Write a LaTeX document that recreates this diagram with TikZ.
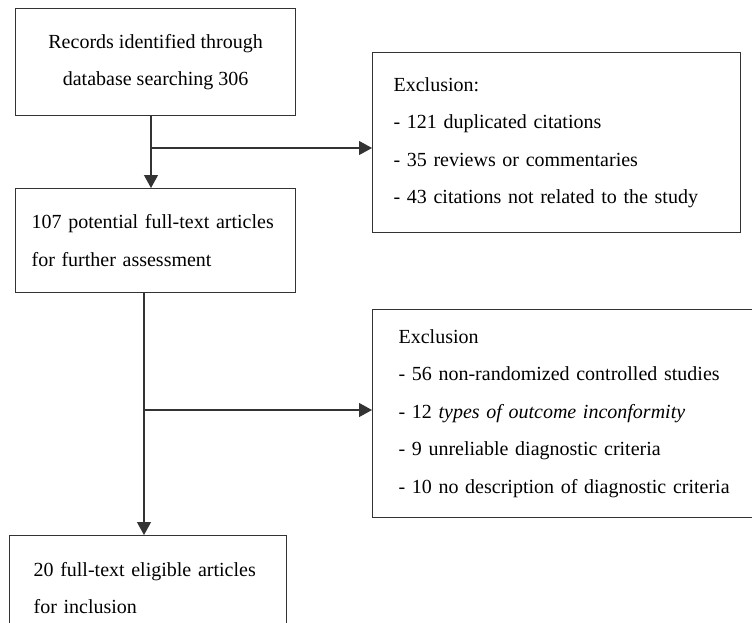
\documentclass[tikz,border=0pt]{standalone}
\usepackage{fontspec}
\setmainfont{Liberation Serif}
\usetikzlibrary{arrows.meta}

\tikzset{
  box/.style={shape=rectangle,draw=black!80,line width=1.2pt,anchor=north west,inner ysep=0pt},
  link/.style={draw=black!80,line width=1.2pt,-{Triangle[length=13pt,width=14pt]}},
}

\begin{document}
\begin{tikzpicture}[x=1pt,y=-1pt,font=\fontsize{20}{37.5}\selectfont]
        \useasboundingbox (0,0) rectangle (752,622);
        \clip (0,0) rectangle (752,622);

        \node[box,minimum width=280pt,minimum height=107pt,align=center] (records) at (15,8) {Records identified through\\database searching 306};
        \node[box,inner xsep=21pt,text width=326pt,minimum height=180pt,align=left] (excl1) at (372,52) {Exclusion:\\- 121 duplicated citations\\- 35 reviews or commentaries\\- 43 citations not related to the study};
        \node[box,inner xsep=16pt,text width=248pt,minimum height=104pt,align=left] (potential) at (15,188) {107 potential full-text articles\\for further assessment};
        \node[box,inner xsep=26pt,text width=348pt,minimum height=208pt,align=left] (excl2) at (372,309) {Exclusion\\- 56 non-randomized controlled studies\\- 12 \textit{types of outcome inconformity}\\- 9 unreliable diagnostic criteria\\- 10 no description of diagnostic criteria};
        \node[box,inner xsep=24pt,text width=229pt,minimum height=105pt,align=left] (eligible) at (9,535) {20 full-text eligible articles\\for inclusion};

        \coordinate (split1) at (151,148);
        \coordinate (split2) at (144,410);

	\path[link] (records.south -| split1) -- (potential.north -| split1);
	\path[link] (split1) -- (split1 -| excl1.west);
	\path[link] (potential.south -| split2) -- (eligible.north -| split2);
	\path[link] (split2) -- (split2 -| excl2.west);
\end{tikzpicture}
\end{document}
